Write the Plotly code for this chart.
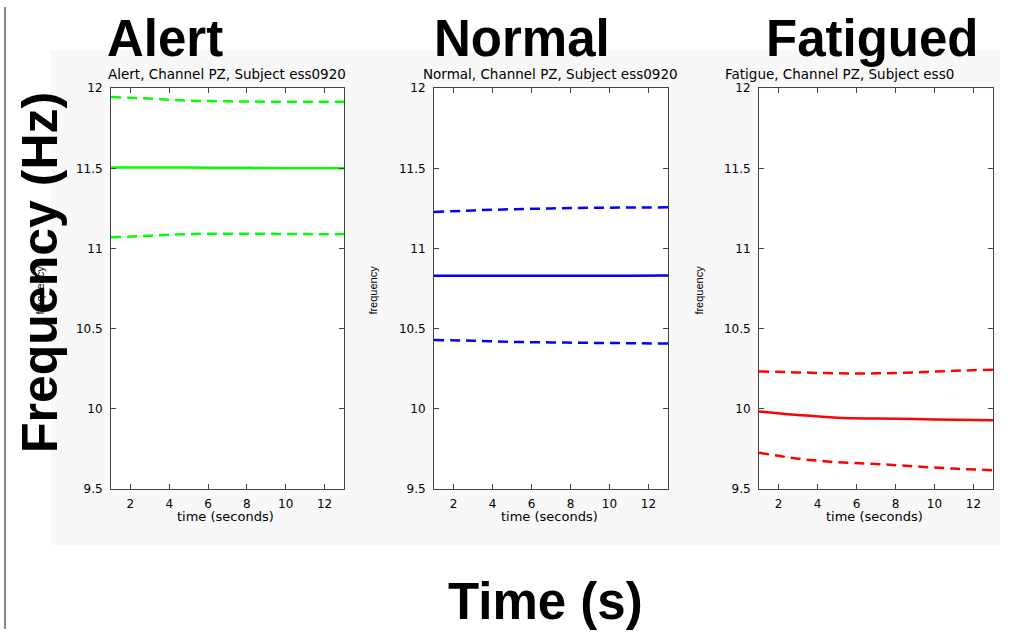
import plotly.graph_objects as go

# ---------------- data ----------------
time_s = [1, 3, 5, 7, 9, 11, 13]

alert_mean = [11.505, 11.505, 11.505, 11.504, 11.502, 11.500, 11.500]
alert_upper = [11.945, 11.935, 11.922, 11.918, 11.916, 11.915, 11.915]
alert_lower = [11.070, 11.080, 11.090, 11.093, 11.092, 11.090, 11.090]

normal_mean = [10.830, 10.830, 10.830, 10.830, 10.830, 10.831, 10.832]
normal_upper = [11.228, 11.238, 11.245, 11.250, 11.254, 11.256, 11.257]
normal_lower = [10.430, 10.425, 10.418, 10.415, 10.412, 10.410, 10.408]

fatigue_mean = [9.984, 9.962, 9.945, 9.940, 9.937, 9.933, 9.930]
fatigue_upper = [10.234, 10.228, 10.222, 10.222, 10.228, 10.238, 10.245]
fatigue_lower = [9.727, 9.690, 9.668, 9.657, 9.642, 9.628, 9.618]

panel_titles = ["Alert", "Normal", "Fatigued"]
panel_subtitles = ["Alert, Channel PZ, Subject ess0920",
                   "Normal, Channel PZ, Subject ess0920",
                   "Fatigue, Channel PZ, Subject ess0"]
panel_colors = ["#00ff00", "#0000ff", "#ff0000"]

x_ticks = [2, 4, 6, 8, 10, 12]
x_ticktext = ["2", "4", "6", "8", "10", "12"]
y_ticks = [9.5, 10, 10.5, 11, 11.5, 12]
y_ticktext = ["9.5", "10", "10.5", "11", "11.5", "12"]

# ---------------- layout helpers ----------------
W, H = 1011, 636


def px(x):
    return x / W


def py(y):
    return 1 - y / H


panel_px = [(111, 344), (434, 668), (759, 993)]
plot_top, plot_bottom = 83, 493

series = [
    (alert_mean, alert_upper, alert_lower),
    (normal_mean, normal_upper, normal_lower),
    (fatigue_mean, fatigue_upper, fatigue_lower),
]

fig = go.Figure()

axis_color = "#444444"
tick_font = dict(family="DejaVu Sans, Verdana, sans-serif", size=12, color="black")

for i, ((m, u, l), col) in enumerate(zip(series, panel_colors)):
    xa = "x" if i == 0 else f"x{i+1}"
    ya = "y" if i == 0 else f"y{i+1}"
    for vals, dash in ((u, "10px,6px"), (l, "10px,6px"), (m, "solid")):
        fig.add_trace(go.Scatter(
            x=time_s, y=vals, mode="lines", xaxis=xa, yaxis=ya,
            line=dict(color=col, width=2.5, dash=dash, shape="spline"),
            showlegend=False, hoverinfo="skip"))
    x0, x1 = panel_px[i]
    key = "" if i == 0 else str(i + 1)
    fig.layout["xaxis" + key] = dict(
        domain=[px(x0), px(x1)], range=[1, 13], anchor=ya,
        tickvals=x_ticks, ticktext=x_ticktext, ticks="inside", ticklen=5,
        tickcolor=axis_color, showline=True, linecolor=axis_color, linewidth=1,
        mirror="ticks", showgrid=False, zeroline=False, tickfont=tick_font,
        ticklabelstandoff=3)
    fig.layout["yaxis" + key] = dict(
        domain=[py(plot_bottom), py(plot_top)], range=[9.5, 12], anchor=xa,
        tickvals=y_ticks, ticktext=y_ticktext, ticks="inside", ticklen=5,
        tickcolor=axis_color, showline=True, linecolor=axis_color, linewidth=1,
        mirror="ticks", showgrid=False, zeroline=False, tickfont=tick_font,
        ticklabelstandoff=5)

shapes = [
    dict(type="rect", xref="paper", yref="paper", x0=px(51), x1=px(1000),
         y0=py(550), y1=py(44), fillcolor="#f8f8f8", line=dict(width=0), layer="below"),
    dict(type="line", xref="paper", yref="paper", x0=px(5), x1=px(5),
         y0=0, y1=1, line=dict(color="#888888", width=2)),
]
for x0, x1 in panel_px:
    shapes.append(dict(type="rect", xref="paper", yref="paper", x0=px(x0), x1=px(x1),
                       y0=py(plot_bottom), y1=py(plot_top), fillcolor="white",
                       line=dict(width=0), layer="below"))

annotations = []
big_font = dict(family="Liberation Sans, Arial, sans-serif", size=51, color="black",
                weight="bold")
small_font = dict(family="DejaVu Sans, Verdana, sans-serif", size=13.5, color="black")
label_font = dict(family="DejaVu Sans, Verdana, sans-serif", size=13, color="black")
ylab_font = dict(family="Liberation Sans Narrow, Liberation Sans, Arial", size=11,
                 color="black")

title_cx = [165, 522, 872]
for i, (x0, x1) in enumerate(panel_px):
    cx = (x0 + x1) / 2
    annotations.append(dict(text=panel_titles[i], x=px(title_cx[i]), y=py(32),
                            xref="paper", yref="paper", showarrow=False,
                            xanchor="center", yanchor="middle", font=big_font))
    if i < 2:
        annotations.append(dict(text=panel_subtitles[i], x=px(cx - 1), y=py(68),
                                xref="paper", yref="paper", showarrow=False,
                                xanchor="center", yanchor="middle", font=small_font))
    else:
        annotations.append(dict(text=panel_subtitles[i], x=px(723), y=py(68),
                                xref="paper", yref="paper", showarrow=False,
                                xanchor="left", yanchor="middle", font=small_font))
    annotations.append(dict(text="time (seconds)", x=px(cx - 2), y=py(521),
                            xref="paper", yref="paper", showarrow=False,
                            xanchor="center", yanchor="middle", font=label_font))

for xl in (40, 373, 699):
    annotations.append(dict(text="frequency", x=px(xl), y=py(290), textangle=-90,
                            xref="paper", yref="paper", showarrow=False,
                            xanchor="center", yanchor="middle", font=ylab_font))

annotations.append(dict(text="Frequency (Hz)", x=px(40), y=py(272), textangle=-90,
                        xref="paper", yref="paper", showarrow=False,
                        xanchor="center", yanchor="middle", font=dict(big_font, size=50)))
annotations.append(dict(text="Time (s)", x=px(545), y=py(608),
                        xref="paper", yref="paper", showarrow=False,
                        xanchor="center", yanchor="middle", font=big_font))

fig.update_layout(width=W, height=H, margin=dict(l=0, r=0, t=0, b=0),
                  paper_bgcolor="white", plot_bgcolor="white",
                  shapes=shapes, annotations=annotations, showlegend=False)

fig.write_html("out.html", config={"displayModeBar": False},
               post_script="document.body.style.margin='0';"
                           "document.body.style.overflow='hidden';")
